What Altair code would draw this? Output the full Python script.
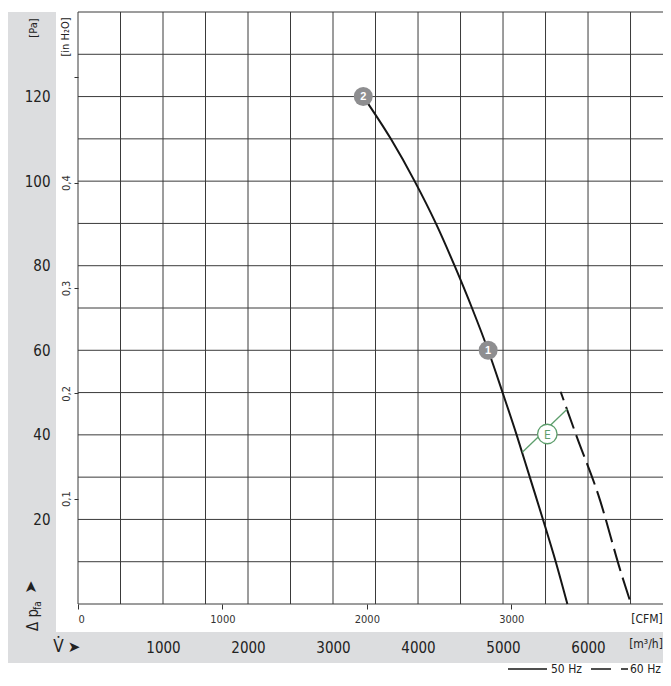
import altair as alt
import pandas as pd

# ---- data ----
flow_50hz = [3356, 3680, 3960, 4210, 4430, 4635, 4825, 4995, 5160, 5315, 5470, 5620, 5757]   # m3/h
press_50hz = [120, 110, 100, 90, 80, 70, 60, 50, 40, 30, 20, 10, 0]                          # Pa
flow_60hz = [5678, 5867, 6121, 6396, 6506]
press_60hz = [50.2, 39.6, 25.8, 6.9, 0]
op_flow = [3356, 4825]
op_press = [120, 60]
op_label = ["2", "1"]
e_flow = [5227, 5756]
e_press = [35.9, 46.1]
e_mark_flow = [5521]
e_mark_press = [40.2]

grid_flow = [0, 500, 1000, 1500, 2000, 2500, 3000, 3500, 4000, 4500, 5000, 5500, 6000, 6500, 7000]
grid_pa = [0, 10, 20, 30, 40, 50, 60, 70, 80, 90, 100, 110, 120, 130, 140]
pa_labels = [20, 40, 60, 80, 100, 120]
flow_labels = [1000, 2000, 3000, 4000, 5000, 6000]
cfm_ticks = [0, 1000, 2000, 3000]
inh2o_ticks = [0.1, 0.2, 0.3, 0.4, 0.5]

X_MAX = 6882      # visible end of the flow axis (m3/h)
Y_MAX = 140
CFM_FACTOR = 1.69901
PA_PER_INH2O = 249.089

FONT = "DejaVu Sans Condensed, Roboto Condensed, Liberation Sans Narrow, Roboto, sans-serif"
BAND = "#dcdddf"
GRID = "#3a3a3a"
INK = "#151515"
GREEN = "#5d9e6c"
MARK_GRAY = "#8e8e90"

xs = alt.Scale(domain=[0, X_MAX], nice=False, zero=False)
ys = alt.Scale(domain=[0, Y_MAX], nice=False, zero=False)
one = pd.DataFrame({"a": [0]})

# ---- background bands ----
band_left = alt.Chart(one).mark_rect(color=BAND).encode(
    x=alt.value(-72), x2=alt.value(-22), y=alt.value(0), y2=alt.value(651))
band_bottom = alt.Chart(one).mark_rect(color=BAND).encode(
    x=alt.value(-72), x2=alt.value(600), y=alt.value(620), y2=alt.value(651))

# ---- grid + main axes ----
pa_axis = alt.Axis(values=pa_labels, orient="left", domain=False, ticks=False, tickSize=0,
                   grid=False, labelPadding=28, labelFontSize=15, labelFont=FONT,
                   labelColor="#222222", labelAlign="right", labelBaseline="middle",
                   format="d", zindex=1, title=None)
flow_axis = alt.Axis(values=flow_labels, orient="bottom", domain=False, ticks=False, tickSize=0,
                     grid=False, labelPadding=43, labelFontSize=15, labelFont=FONT,
                     labelColor="#222222", labelBaseline="middle", format="d",
                     zindex=1, title=None)

hgrid = alt.Chart(pd.DataFrame({"p": grid_pa})).mark_rule(color=GRID, strokeWidth=1).encode(
    y=alt.Y("p:Q", scale=ys, axis=pa_axis))
vgrid = alt.Chart(pd.DataFrame({"q": grid_flow})).mark_rule(color=GRID, strokeWidth=1).encode(
    x=alt.X("q:Q", scale=xs, axis=flow_axis))

inh_axis = alt.Axis(values=inh2o_ticks, orient="left", domain=False, grid=False,
                    ticks=True, tickSize=4, tickColor="#333333", tickWidth=1,
                    labelExpr="datum.value > 0.45 ? '' : replace(format(datum.value, '.1f'), '.', ',')",
                    labelAngle=270, labelAlign="center", labelBaseline="middle",
                    labelPadding=8, labelFontSize=11, labelFont=FONT, labelColor="#333333",
                    zindex=1, title=None)
inh_layer = alt.Chart(pd.DataFrame({"w": inh2o_ticks})).mark_point(opacity=0).encode(
    y=alt.Y("w:Q", scale=alt.Scale(domain=[0, Y_MAX / PA_PER_INH2O], nice=False, zero=False),
            axis=inh_axis))

cfm_axis = alt.Axis(values=cfm_ticks, orient="bottom", domain=False, grid=False,
                    ticks=True, tickSize=5, tickColor="#333333", tickWidth=1,
                    labelPadding=4, labelFontSize=11, labelFont=FONT, labelColor="#333333",
                    labelBaseline="top", format="d", zindex=1, title=None)
cfm_layer = alt.Chart(pd.DataFrame({"c": cfm_ticks})).mark_point(opacity=0).encode(
    x=alt.X("c:Q", scale=alt.Scale(domain=[0, X_MAX / CFM_FACTOR], nice=False, zero=False),
            axis=cfm_axis))

# ---- curves ----
df50 = pd.DataFrame({"q": flow_50hz, "p": press_50hz})
df60 = pd.DataFrame({"q": flow_60hz, "p": press_60hz})
c50 = alt.Chart(df50).mark_line(color=INK, strokeWidth=2, interpolate="monotone").encode(
    x=alt.X("q:Q", scale=xs, axis=None), y=alt.Y("p:Q", scale=ys, axis=None))
c60 = alt.Chart(df60).mark_line(color=INK, strokeWidth=2, strokeDash=[23, 7],
                                strokeDashOffset=14, interpolate="monotone").encode(
    x=alt.X("q:Q", scale=xs, axis=None), y=alt.Y("p:Q", scale=ys, axis=None))

# ---- E marker ----
dfe = pd.DataFrame({"q": e_flow, "p": e_press})
e_line = alt.Chart(dfe).mark_line(color=GREEN, strokeWidth=1.3).encode(
    x=alt.X("q:Q", scale=xs, axis=None), y=alt.Y("p:Q", scale=ys, axis=None))
dfem = pd.DataFrame({"q": e_mark_flow, "p": e_mark_press, "t": ["E"]})
e_circle = alt.Chart(dfem).mark_point(shape="circle", filled=True, fill="white", stroke=GREEN,
                                      strokeWidth=1.3, size=380, opacity=1).encode(
    x=alt.X("q:Q", scale=xs, axis=None), y=alt.Y("p:Q", scale=ys, axis=None))
e_text = alt.Chart(dfem).mark_text(color=GREEN, fontSize=12, font=FONT,
                                   baseline="middle", dy=0.5).encode(
    x=alt.X("q:Q", scale=xs, axis=None), y=alt.Y("p:Q", scale=ys, axis=None), text="t:N")

# ---- operating point markers ----
dfop = pd.DataFrame({"q": op_flow, "p": op_press, "t": op_label})
op_circle = alt.Chart(dfop).mark_point(shape="circle", filled=True, color=MARK_GRAY,
                                       size=360, opacity=1).encode(
    x=alt.X("q:Q", scale=xs, axis=None), y=alt.Y("p:Q", scale=ys, axis=None))
op_text = alt.Chart(dfop).mark_text(color="white", fontSize=11, fontWeight="bold",
                                    font="Liberation Sans", baseline="middle", dy=0.5).encode(
    x=alt.X("q:Q", scale=xs, axis=None), y=alt.Y("p:Q", scale=ys, axis=None), text="t:N")


def label(txt, x, y, size=12, angle=0, align="center", baseline="middle",
          font=FONT, color="#222222", weight="normal"):
    return alt.Chart(one).mark_text(text=txt, fontSize=size, angle=angle, align=align,
                                    baseline=baseline, font=font, color=color,
                                    fontWeight=weight).encode(x=alt.value(x), y=alt.value(y))


texts = [
    label("[Pa]", -44, 16, size=11, angle=270),
    label("[in H\u2082O]", -12.5, 25, size=11, angle=270),
    label("\u0394 p", -40, 619, size=15, angle=270, align="left", baseline="alphabetic"),
    label("fa", -37, 598, size=10, angle=270, align="left", baseline="alphabetic"),
    label("\u27a4", -47, 575, size=16, angle=270, font="DejaVu Sans"),
    label("V\u0307", -19.5, 635, size=17),
    label("\u27a4", -4, 635, size=15, font="DejaVu Sans"),
    label("[m\u00b3/h]", 568, 632, size=12),
    label("[CFM]", 569, 607, size=12),
    label("50 Hz", 473, 657, size=12, align="left"),
    label("60 Hz", 552, 657, size=12, align="left"),
]

leg_solid = alt.Chart(one).mark_rule(color=INK, strokeWidth=1.6).encode(
    x=alt.value(430), x2=alt.value(469), y=alt.value(657))
leg_dash = alt.Chart(one).mark_rule(color=INK, strokeWidth=1.6, strokeDash=[20, 10]).encode(
    x=alt.value(513), x2=alt.value(550), y=alt.value(657))

chart = alt.layer(
    band_left, band_bottom, hgrid, vgrid, inh_layer, cfm_layer,
    c50, c60, e_line, e_circle, e_text, op_circle, op_text,
    *texts, leg_solid, leg_dash
).resolve_scale(
    x="independent", y="independent"
).properties(
    width=585, height=592,
    autosize=alt.AutoSizeParams(type="none"),
    padding={"left": 70, "top": 4, "right": 0, "bottom": 74},
).configure_view(strokeWidth=0)

chart.save("out.html", embed_options={"renderer": "svg", "actions": False})
